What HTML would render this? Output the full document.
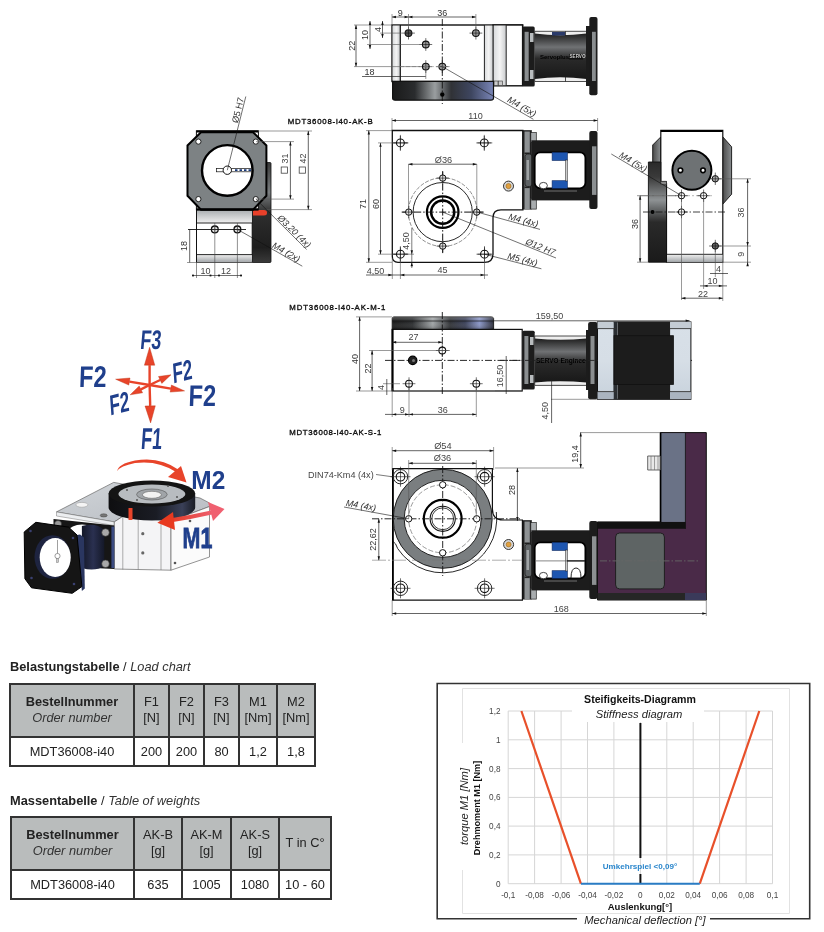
<!DOCTYPE html>
<html><head><meta charset="utf-8">
<style>
html,body{margin:0;padding:0;background:#fff;}
body{width:824px;height:932px;position:relative;overflow:hidden;font-family:"Liberation Sans",sans-serif;}
.ttl{position:absolute;font-size:12.8px;color:#222;white-space:nowrap;line-height:15px;}
.ttl i{color:#333;}
table.t{position:absolute;border-collapse:collapse;font-size:12.8px;color:#222;table-layout:fixed;}
table.t td{border:2px solid #333;text-align:center;padding:0;line-height:15.5px;}
table.t tr.h td{background:#b9bcbc;padding-bottom:2px;}
table.t i{color:#333;}
svg{position:absolute;left:0;top:0;will-change:transform;}
body>*{will-change:transform;}
</style></head>
<body>


<div class="ttl" style="left:10px;top:659px;"><b>Belastungstabelle</b> / <i>Load chart</i></div>
<table class="t" style="left:9px;top:683px;">
<tr class="h" style="height:53px"><td style="width:122px"><b>Bestellnummer</b><br><i>Order number</i></td><td style="width:33px">F1<br>[N]</td><td style="width:33px">F2<br>[N]</td><td style="width:33px">F3<br>[N]</td><td style="width:36px">M1<br>[Nm]</td><td style="width:36px">M2<br>[Nm]</td></tr>
<tr style="height:29px"><td>MDT36008-i40</td><td>200</td><td>200</td><td>80</td><td>1,2</td><td>1,8</td></tr>
</table>
<div class="ttl" style="left:10px;top:793px;"><b>Massentabelle</b> / <i>Table of weights</i></div>
<table class="t" style="left:10px;top:816px;">
<tr class="h" style="height:53px"><td style="width:121px"><b>Bestellnummer</b><br><i>Order number</i></td><td style="width:46px">AK-B<br>[g]</td><td style="width:47px">AK-M<br>[g]</td><td style="width:46px">AK-S<br>[g]</td><td style="width:50px">T in C°</td></tr>
<tr style="height:29px"><td>MDT36008-i40</td><td>635</td><td>1005</td><td>1080</td><td>10 - 60</td></tr>
</table>

<svg width="824" height="932" viewBox="0 0 824 932" font-family='"Liberation Sans", sans-serif'>
<path d="M462.5 743 V688.5 H789.5 V913.5 H462.5 V870" fill="none" stroke="#e2e2e2" stroke-width="1"/>
<line x1="508.2" y1="711" x2="508.2" y2="883.7" stroke="#d6d6d6" stroke-width="1"/>
<line x1="534.6" y1="711" x2="534.6" y2="883.7" stroke="#d6d6d6" stroke-width="1"/>
<line x1="561.1" y1="711" x2="561.1" y2="883.7" stroke="#d6d6d6" stroke-width="1"/>
<line x1="587.5" y1="711" x2="587.5" y2="883.7" stroke="#d6d6d6" stroke-width="1"/>
<line x1="613.9" y1="711" x2="613.9" y2="883.7" stroke="#d6d6d6" stroke-width="1"/>
<line x1="640.4" y1="711" x2="640.4" y2="883.7" stroke="#d6d6d6" stroke-width="1"/>
<line x1="666.8" y1="711" x2="666.8" y2="883.7" stroke="#d6d6d6" stroke-width="1"/>
<line x1="693.2" y1="711" x2="693.2" y2="883.7" stroke="#d6d6d6" stroke-width="1"/>
<line x1="719.6" y1="711" x2="719.6" y2="883.7" stroke="#d6d6d6" stroke-width="1"/>
<line x1="746.1" y1="711" x2="746.1" y2="883.7" stroke="#d6d6d6" stroke-width="1"/>
<line x1="772.5" y1="711" x2="772.5" y2="883.7" stroke="#d6d6d6" stroke-width="1"/>
<line x1="508.2" y1="883.7" x2="772.5" y2="883.7" stroke="#d6d6d6" stroke-width="1"/>
<line x1="508.2" y1="854.9" x2="772.5" y2="854.9" stroke="#d6d6d6" stroke-width="1"/>
<line x1="508.2" y1="826.1" x2="772.5" y2="826.1" stroke="#d6d6d6" stroke-width="1"/>
<line x1="508.2" y1="797.4" x2="772.5" y2="797.4" stroke="#d6d6d6" stroke-width="1"/>
<line x1="508.2" y1="768.6" x2="772.5" y2="768.6" stroke="#d6d6d6" stroke-width="1"/>
<line x1="508.2" y1="739.8" x2="772.5" y2="739.8" stroke="#d6d6d6" stroke-width="1"/>
<line x1="508.2" y1="711.0" x2="772.5" y2="711.0" stroke="#d6d6d6" stroke-width="1"/>
<rect x="572" y="695" width="132" height="27" fill="#fff"/>
<text x="640" y="703.3" font-size="10.6" text-anchor="middle" font-weight="bold" fill="#111">Steifigkeits-Diagramm</text>
<text x="639" y="717.5" font-size="11.2" text-anchor="middle" font-style="italic" fill="#222">Stiffness diagram</text>
<text x="500.5" y="886.7" font-size="8.2" text-anchor="end" fill="#444">0</text>
<text x="500.5" y="857.9166666666667" font-size="8.2" text-anchor="end" fill="#444">0,2</text>
<text x="500.5" y="829.1333333333333" font-size="8.2" text-anchor="end" fill="#444">0,4</text>
<text x="500.5" y="800.35" font-size="8.2" text-anchor="end" fill="#444">0,6</text>
<text x="500.5" y="771.5666666666667" font-size="8.2" text-anchor="end" fill="#444">0,8</text>
<text x="500.5" y="742.7833333333333" font-size="8.2" text-anchor="end" fill="#444">1</text>
<text x="500.5" y="714.0" font-size="8.2" text-anchor="end" fill="#444">1,2</text>
<text x="508.2" y="897.5" font-size="8.2" text-anchor="middle" fill="#444">-0,1</text>
<text x="534.6" y="897.5" font-size="8.2" text-anchor="middle" fill="#444">-0,08</text>
<text x="561.1" y="897.5" font-size="8.2" text-anchor="middle" fill="#444">-0,06</text>
<text x="587.5" y="897.5" font-size="8.2" text-anchor="middle" fill="#444">-0,04</text>
<text x="613.9" y="897.5" font-size="8.2" text-anchor="middle" fill="#444">-0,02</text>
<text x="640.4" y="897.5" font-size="8.2" text-anchor="middle" fill="#444">0</text>
<text x="666.8" y="897.5" font-size="8.2" text-anchor="middle" fill="#444">0,02</text>
<text x="693.2" y="897.5" font-size="8.2" text-anchor="middle" fill="#444">0,04</text>
<text x="719.6" y="897.5" font-size="8.2" text-anchor="middle" fill="#444">0,06</text>
<text x="746.1" y="897.5" font-size="8.2" text-anchor="middle" fill="#444">0,08</text>
<text x="772.5" y="897.5" font-size="8.2" text-anchor="middle" fill="#444">0,1</text>
<line x1="640.4" y1="723" x2="640.4" y2="858" stroke="#111" stroke-width="2"/>
<line x1="640.4" y1="874" x2="640.4" y2="883.7" stroke="#111" stroke-width="2"/>
<polyline points="521.4,711 580.9,883.7" fill="none" stroke="#e8502a" stroke-width="2.2"/>
<polyline points="759.3,711 699.8,883.7" fill="none" stroke="#e8502a" stroke-width="2.2"/>
<line x1="580.9" y1="883.7" x2="699.8" y2="883.7" stroke="#2a7cc4" stroke-width="2"/>
<text x="640" y="869" font-size="8.1" text-anchor="middle" font-weight="bold" fill="#2a86cc">Umkehrspiel &lt;0,09°</text>
<text x="640" y="910" font-size="9.5" text-anchor="middle" font-weight="bold" fill="#111">Auslenkung[°]</text>
<text x="645" y="924" font-size="11.2" text-anchor="middle" font-style="italic" fill="#222">Mechanical deflection [°]</text>
<text x="468" y="806.5" font-size="11.2" text-anchor="middle" font-style="italic" fill="#222" transform="rotate(-90 468 806.5)">torque M1 [Nm]</text>
<text x="479.5" y="808" font-size="9.1" text-anchor="middle" font-weight="bold" fill="#111" transform="rotate(-90 479.5 808)">Drehmoment M1 [Nm]</text>
<path d="M577 918.8 H437.2 V683.5 H809.7 V918.8 H710" fill="none" stroke="#333" stroke-width="1.6"/>
<defs>
<linearGradient id="gBase" x1="0" x2="1" y1="0" y2="0">
<stop offset="0" stop-color="#1a1a1a"/><stop offset="0.22" stop-color="#2a2c2e"/><stop offset="0.42" stop-color="#9a9ea0"/><stop offset="0.58" stop-color="#303236"/><stop offset="0.78" stop-color="#3e4660"/><stop offset="1" stop-color="#7a86b8"/></linearGradient>
<linearGradient id="gStrip" x1="0" x2="1" y1="0" y2="0"><stop offset="0" stop-color="#d8dadc"/><stop offset="0.5" stop-color="#f4f4f4"/><stop offset="1" stop-color="#c9cbcd"/></linearGradient>
<linearGradient id="gCoup" x1="0" x2="0" y1="0" y2="1"><stop offset="0" stop-color="#1e1e1e"/><stop offset="0.3" stop-color="#707274"/><stop offset="0.55" stop-color="#2a2a2a"/><stop offset="1" stop-color="#181818"/></linearGradient>
<linearGradient id="gBaseV" x1="0" x2="0" y1="0" y2="1"><stop offset="0" stop-color="#000" stop-opacity="0"/><stop offset="1" stop-color="#000" stop-opacity="0.35"/></linearGradient>
</defs>
<rect x="392" y="25" width="130.6" height="56.5" fill="#fff" stroke="#111" stroke-width="1.4"/>
<rect x="493" y="25" width="29.6" height="60.8" fill="#fff" stroke="#111" stroke-width="1.4"/>
<rect x="392.7" y="25.7" width="7.3" height="55" fill="url(#gStrip)"/>
<line x1="400.3" y1="25" x2="400.3" y2="81" stroke="#111" stroke-width="1.2"/>
<rect x="484.4" y="25.7" width="8.6" height="55.5" fill="url(#gStrip)"/>
<rect x="493.6" y="25.7" width="12.6" height="59.5" fill="url(#gStrip)"/>
<line x1="484.4" y1="25" x2="484.4" y2="85.8" stroke="#222" stroke-width="1"/>
<line x1="493" y1="25" x2="493" y2="85.8" stroke="#222" stroke-width="1"/>
<line x1="506.2" y1="25" x2="506.2" y2="85.8" stroke="#222" stroke-width="1"/>
<rect x="494" y="81" width="4" height="4.5" fill="#ccc" stroke="#333" stroke-width="0.6"/><rect x="498.5" y="81" width="4" height="4.5" fill="#ccc" stroke="#333" stroke-width="0.6"/>
<path d="M392.6 81.4 H493.5 V98 Q493.5 100.2 491 100.2 H395 Q392.6 100.2 392.6 98 Z" fill="url(#gBase)" stroke="#111" stroke-width="1.2"/>
<line x1="442.3" y1="19" x2="442.3" y2="104" stroke="#111" stroke-width="0.9" stroke-dasharray="7 2 1.5 2"/>
<circle cx="442.3" cy="94.5" r="2.2" fill="#000"/>
<circle cx="408.5" cy="33.1" r="3.4" fill="#555" stroke="#111" stroke-width="1.1"/><line x1="402.1" y1="33.1" x2="414.9" y2="33.1" stroke="#111" stroke-width="0.6"/><line x1="408.5" y1="26.700000000000003" x2="408.5" y2="39.5" stroke="#111" stroke-width="0.6"/>
<circle cx="475.9" cy="33.1" r="3.4" fill="#999" stroke="#111" stroke-width="1.1"/><line x1="469.5" y1="33.1" x2="482.29999999999995" y2="33.1" stroke="#111" stroke-width="0.6"/><line x1="475.9" y1="26.700000000000003" x2="475.9" y2="39.5" stroke="#111" stroke-width="0.6"/>
<circle cx="425.8" cy="44.5" r="3.4" fill="#999" stroke="#111" stroke-width="1.1"/><line x1="419.40000000000003" y1="44.5" x2="432.2" y2="44.5" stroke="#111" stroke-width="0.6"/><line x1="425.8" y1="38.1" x2="425.8" y2="50.9" stroke="#111" stroke-width="0.6"/>
<circle cx="425.8" cy="66.6" r="3.4" fill="#999" stroke="#111" stroke-width="1.1"/><line x1="419.40000000000003" y1="66.6" x2="432.2" y2="66.6" stroke="#111" stroke-width="0.6"/><line x1="425.8" y1="60.199999999999996" x2="425.8" y2="73.0" stroke="#111" stroke-width="0.6"/>
<circle cx="442.3" cy="66.6" r="3.4" fill="#999" stroke="#111" stroke-width="1.1"/><line x1="435.90000000000003" y1="66.6" x2="448.7" y2="66.6" stroke="#111" stroke-width="0.6"/><line x1="442.3" y1="60.199999999999996" x2="442.3" y2="73.0" stroke="#111" stroke-width="0.6"/>
<line x1="400" y1="66.6" x2="450" y2="66.6" stroke="#999" stroke-width="0.6" stroke-dasharray="4 2"/>
<line x1="392" y1="17" x2="408.5" y2="17" stroke="#222" stroke-width="0.7"/><path d="M392 17 l3.9600000000000004 -1.2100000000000002 v2.4200000000000004 z" fill="#111"/><path d="M408.5 17 l-3.9600000000000004 -1.2100000000000002 v2.4200000000000004 z" fill="#111"/><text x="400.25" y="15.5" font-size="9" text-anchor="middle" fill="#333">9</text>
<line x1="408.5" y1="17" x2="475.9" y2="17" stroke="#222" stroke-width="0.7"/><path d="M408.5 17 l3.9600000000000004 -1.2100000000000002 v2.4200000000000004 z" fill="#111"/><path d="M475.9 17 l-3.9600000000000004 -1.2100000000000002 v2.4200000000000004 z" fill="#111"/><text x="442.2" y="15.5" font-size="9" text-anchor="middle" fill="#333">36</text>
<line x1="392" y1="25" x2="392" y2="14" stroke="#555" stroke-width="0.6"/>
<line x1="408.5" y1="30" x2="408.5" y2="14" stroke="#555" stroke-width="0.6"/>
<line x1="475.9" y1="30" x2="475.9" y2="14" stroke="#555" stroke-width="0.6"/>
<line x1="356" y1="25" x2="356" y2="66.6" stroke="#222" stroke-width="0.7"/><path d="M356 25 l-1.2100000000000002 3.9600000000000004 h2.4200000000000004 z" fill="#111"/><path d="M356 66.6 l-1.2100000000000002 -3.9600000000000004 h2.4200000000000004 z" fill="#111"/><text x="355" y="45.8" font-size="9" text-anchor="middle" fill="#333" transform="rotate(-90 355 45.8)">22</text>
<line x1="354" y1="25" x2="392" y2="25" stroke="#555" stroke-width="0.6"/>
<line x1="354" y1="66.6" x2="420" y2="66.6" stroke="#555" stroke-width="0.6"/>
<line x1="370" y1="21" x2="370" y2="49" stroke="#222" stroke-width="0.7"/><path d="M370 21 l-1.2100000000000002 3.9600000000000004 h2.4200000000000004 z" fill="#111"/><path d="M370 49 l-1.2100000000000002 -3.9600000000000004 h2.4200000000000004 z" fill="#111"/><text x="367.8" y="35.0" font-size="9" text-anchor="middle" fill="#333" transform="rotate(-90 367.8 35.0)">10</text>
<line x1="367" y1="44.5" x2="420" y2="44.5" stroke="#555" stroke-width="0.6"/>
<line x1="382.5" y1="21" x2="382.5" y2="38" stroke="#222" stroke-width="0.7"/><path d="M382.5 21 l-1.2100000000000002 3.9600000000000004 h2.4200000000000004 z" fill="#111"/><path d="M382.5 38 l-1.2100000000000002 -3.9600000000000004 h2.4200000000000004 z" fill="#111"/><text x="381" y="29.5" font-size="9" text-anchor="middle" fill="#333" transform="rotate(-90 381 29.5)">4</text>
<line x1="380" y1="33.1" x2="402" y2="33.1" stroke="#555" stroke-width="0.6"/>
<line x1="362" y1="76.5" x2="425.8" y2="76.5" stroke="#222" stroke-width="0.7"/><text x="369.5" y="74.8" font-size="9" text-anchor="middle" fill="#333">18</text>
<line x1="425.8" y1="70" x2="425.8" y2="79" stroke="#555" stroke-width="0.6"/>
<line x1="442.3" y1="66.6" x2="533.4" y2="119.3" stroke="#111" stroke-width="0.6"/><text x="520.28" y="109.4" font-size="9.4" text-anchor="middle" font-style="italic" fill="#333" transform="rotate(30.05 520.28 109.4)">M4 (5x)</text>
<rect x="522.4" y="26.4" width="12.3" height="60.1" rx="1.5" fill="#1c1c1c"/>
<rect x="524.6" y="31.8" width="4.1" height="49.2" fill="#8a8e90"/>
<rect x="530" y="33" width="3.5" height="9" fill="#b8bcbe"/><rect x="530" y="70" width="3.5" height="9" fill="#b8bcbe"/>
<path d="M534.7 31.3 H587 V81.5 H534.7 Z" fill="#eee" stroke="#222" stroke-width="0.8"/>
<path d="M534.7 33.5 Q560 37 586.5 33.5 V79 Q560 75.5 534.7 79 Z" fill="url(#gCoup)"/>
<rect x="552" y="32" width="13" height="3.5" fill="#2a3a6a"/><line x1="565.5" y1="31.3" x2="565.5" y2="36" stroke="#222" stroke-width="0.8"/><line x1="565.5" y1="77" x2="565.5" y2="81.5" stroke="#222" stroke-width="0.8"/>
<rect x="586" y="26" width="4" height="60" fill="#1c1c1c"/>
<rect x="589.3" y="17.1" width="8.2" height="78.1" rx="2" fill="#1c1c1c"/>
<rect x="592" y="31.8" width="3.8" height="49.2" fill="#8a8e90"/>
<text x="540" y="58.5" font-size="6" font-weight="bold" fill="#000">Servoplus</text>
<rect x="569" y="54" width="14" height="5.5" fill="#111"/><text x="569.5" y="58.3" font-size="4.6" font-weight="bold" fill="#ccc">SERVO</text>
<defs>
<linearGradient id="gBandH" x1="0" x2="0" y1="0" y2="1"><stop offset="0" stop-color="#a9adb0"/><stop offset="1" stop-color="#f0f0f0"/></linearGradient>
<linearGradient id="gBandH2" x1="0" x2="0" y1="0" y2="1"><stop offset="0" stop-color="#f0f0f0"/><stop offset="1" stop-color="#a5a9ac"/></linearGradient>
<linearGradient id="gSide" x1="0" x2="0" y1="0" y2="1"><stop offset="0" stop-color="#3a3a3a"/><stop offset="0.3" stop-color="#7a7e80"/><stop offset="0.5" stop-color="#2e2e2e"/><stop offset="0.85" stop-color="#1e1e1e"/><stop offset="1" stop-color="#3a3a3a"/></linearGradient>
</defs>
<rect x="252" y="162.5" width="19" height="100" rx="1" fill="url(#gSide)" stroke="#111" stroke-width="0.8"/>
<path d="M253 210 H264 Q267 210 267 212.5 V213 Q267 215.5 264 215.5 H253 Z" fill="#e8402a"/>
<rect x="196.5" y="209" width="55.7" height="53.2" fill="#fff" stroke="#111" stroke-width="1"/>
<rect x="197" y="210" width="54.8" height="13" fill="url(#gBandH)"/>
<rect x="197" y="254.6" width="54.8" height="7.2" fill="url(#gBandH2)"/>
<line x1="196.5" y1="223" x2="252.2" y2="223" stroke="#111" stroke-width="0.9"/>
<line x1="196.5" y1="254.6" x2="252.2" y2="254.6" stroke="#111" stroke-width="0.9"/>
<rect x="196.4" y="130.8" width="62" height="79" fill="#fff" stroke="#111" stroke-width="1"/>
<path d="M201 132.2 H253 L266.4 145.5 V195.8 L253 209.8 H201 L187.5 195.8 V145.5 Z" fill="#7d8284" stroke="#000" stroke-width="2"/>
<line x1="196.4" y1="131.5" x2="258.3" y2="131.5" stroke="#000" stroke-width="2.2"/>
<line x1="196.4" y1="209.3" x2="258.3" y2="209.3" stroke="#000" stroke-width="2.2"/>
<circle cx="198.4" cy="141.6" r="2.6" fill="#fff" stroke="#111" stroke-width="0.9"/>
<circle cx="255.8" cy="141.6" r="2.6" fill="#fff" stroke="#111" stroke-width="0.9"/>
<circle cx="198.4" cy="199.1" r="2.6" fill="#fff" stroke="#111" stroke-width="0.9"/>
<circle cx="255.8" cy="199.1" r="2.6" fill="#fff" stroke="#111" stroke-width="0.9"/>
<circle cx="227.3" cy="170.4" r="25.3" fill="#fff" stroke="#000" stroke-width="2.4"/>
<rect x="216.4" y="168.4" width="35" height="3.4" fill="#fff" stroke="#111" stroke-width="0.7"/>
<path d="M235 170.1 H251" stroke="#1a3a7a" stroke-width="1.6" stroke-dasharray="2.5 2"/>
<circle cx="227.3" cy="170.2" r="4.2" fill="#fff" stroke="#111" stroke-width="1"/>
<circle cx="214.8" cy="229.4" r="3.4" fill="#e8e8e8" stroke="#111" stroke-width="1.3"/>
<line x1="214.8" y1="226" x2="214.8" y2="233" stroke="#333" stroke-width="0.6"/>
<circle cx="237.4" cy="229.4" r="3.4" fill="#e8e8e8" stroke="#111" stroke-width="1.3"/>
<line x1="237.4" y1="226" x2="237.4" y2="233" stroke="#333" stroke-width="0.6"/>
<line x1="188" y1="229.5" x2="246" y2="229.5" stroke="#111" stroke-width="0.9"/>
<line x1="258" y1="131" x2="312" y2="131" stroke="#555" stroke-width="0.6"/>
<line x1="256" y1="141.6" x2="294" y2="141.6" stroke="#555" stroke-width="0.6"/>
<line x1="256" y1="199.1" x2="294" y2="199.1" stroke="#555" stroke-width="0.6"/>
<line x1="266" y1="209.6" x2="312" y2="209.6" stroke="#555" stroke-width="0.6"/>
<line x1="290.4" y1="141.6" x2="290.4" y2="199.1" stroke="#222" stroke-width="0.7"/><path d="M290.4 141.6 l-1.2100000000000002 3.9600000000000004 h2.4200000000000004 z" fill="#111"/><path d="M290.4 199.1 l-1.2100000000000002 -3.9600000000000004 h2.4200000000000004 z" fill="#111"/><text x="287.5" y="170.35" font-size="9" text-anchor="middle" fill="#333" transform="rotate(-90 287.5 170.35)"></text>
<line x1="308.3" y1="131" x2="308.3" y2="209.6" stroke="#222" stroke-width="0.7"/><path d="M308.3 131 l-1.2100000000000002 3.9600000000000004 h2.4200000000000004 z" fill="#111"/><path d="M308.3 209.6 l-1.2100000000000002 -3.9600000000000004 h2.4200000000000004 z" fill="#111"/><text x="305.5" y="170.3" font-size="9" text-anchor="middle" fill="#333" transform="rotate(-90 305.5 170.3)"></text>
<text x="287.6" y="158.5" font-size="9" text-anchor="middle" fill="#444" transform="rotate(-90 287.6 158.5)">31</text>
<text x="305.6" y="158.5" font-size="9" text-anchor="middle" fill="#444" transform="rotate(-90 305.6 158.5)">42</text>
<rect x="281.2" y="167" width="6.2" height="6.2" fill="none" stroke="#444" stroke-width="0.8"/>
<rect x="299.2" y="167" width="6.2" height="6.2" fill="none" stroke="#444" stroke-width="0.8"/>
<line x1="227.3" y1="170.2" x2="245.8" y2="96.5" stroke="#111" stroke-width="0.6"/><text x="240.94" y="110.95" font-size="9" text-anchor="middle" fill="#333" transform="rotate(-75.91 240.94 110.95)">Ø5 H7</text>
<line x1="255.8" y1="199.1" x2="306.6" y2="249.5" stroke="#111" stroke-width="0.6"/><text x="292.21" y="233.53" font-size="9" text-anchor="middle" font-style="italic" fill="#333" transform="rotate(44.77 292.21 233.53)">Ø3,20 (4x)</text>
<line x1="237.4" y1="229.4" x2="302.3" y2="266.2" stroke="#111" stroke-width="0.6"/><text x="284.72" y="254.85" font-size="9" text-anchor="middle" font-style="italic" fill="#333" transform="rotate(29.55 284.72 254.85)">M4 (2x)</text>
<line x1="187" y1="262.5" x2="197" y2="262.5" stroke="#555" stroke-width="0.6"/>
<line x1="189.7" y1="229.4" x2="189.7" y2="262.4" stroke="#222" stroke-width="0.7"/><text x="187.3" y="245.89999999999998" font-size="9" text-anchor="middle" fill="#333" transform="rotate(-90 187.3 245.89999999999998)">18</text>
<line x1="196.5" y1="262" x2="196.5" y2="278" stroke="#444" stroke-width="0.6"/>
<line x1="214.8" y1="223" x2="214.8" y2="278" stroke="#444" stroke-width="0.6"/>
<line x1="237.4" y1="223" x2="237.4" y2="278" stroke="#444" stroke-width="0.6"/>
<line x1="192" y1="275.5" x2="242" y2="275.5" stroke="#333" stroke-width="0.7"/>
<rect x="192.1" y="274.6" width="1.8" height="1.8" fill="#111"/>
<rect x="209.6" y="274.6" width="1.8" height="1.8" fill="#111"/>
<rect x="218.1" y="274.6" width="1.8" height="1.8" fill="#111"/>
<rect x="240.1" y="274.6" width="1.8" height="1.8" fill="#111"/>
<text x="205.6" y="273.5" font-size="9" text-anchor="middle" fill="#444">10</text>
<text x="226.1" y="273.5" font-size="9" text-anchor="middle" fill="#444">12</text>
<defs>
<linearGradient id="gFl" x1="0" x2="1" y1="0" y2="0"><stop offset="0" stop-color="#222"/><stop offset="0.5" stop-color="#3a3a3a"/><stop offset="1" stop-color="#1a1a1a"/></linearGradient>
</defs>
<text x="287.7" y="123.5" font-size="7.8" fill="#111" stroke="#111" stroke-width="0.35" textLength="85" lengthAdjust="spacing">MDT36008-i40-AK-B</text>
<line x1="392" y1="120.5" x2="597.6" y2="120.5" stroke="#222" stroke-width="0.7"/>
<path d="M392 120.5 l3.9600000000000004 -1.2100000000000002 v2.4200000000000004 z" fill="#111"/><path d="M597.6 120.5 l-3.9600000000000004 -1.2100000000000002 v2.4200000000000004 z" fill="#111"/>
<text x="475.5" y="119" font-size="9" text-anchor="middle" fill="#444">110</text>
<line x1="392" y1="118" x2="392" y2="131" stroke="#555" stroke-width="0.6"/>
<line x1="597.6" y1="118" x2="597.6" y2="131" stroke="#555" stroke-width="0.6"/>
<path d="M392.3 130.5 H522.9 V209.8 H501 Q493 209.8 493 217.5 V254 Q493 262.3 484.5 262.3 H398 Q392.3 262.3 392.3 256.5 Z" fill="#fff" stroke="#111" stroke-width="1.3"/>
<line x1="366" y1="130.6" x2="392" y2="130.6" stroke="#555" stroke-width="0.6"/>
<line x1="366" y1="262.3" x2="392" y2="262.3" stroke="#555" stroke-width="0.6"/>
<line x1="378" y1="142.9" x2="408" y2="142.9" stroke="#555" stroke-width="0.6"/>
<line x1="378" y1="254.2" x2="408" y2="254.2" stroke="#555" stroke-width="0.6"/>
<line x1="368.8" y1="130.6" x2="368.8" y2="262.3" stroke="#222" stroke-width="0.7"/><path d="M368.8 130.6 l-1.2100000000000002 3.9600000000000004 h2.4200000000000004 z" fill="#111"/><path d="M368.8 262.3 l-1.2100000000000002 -3.9600000000000004 h2.4200000000000004 z" fill="#111"/><text x="365.5" y="204" font-size="9" text-anchor="middle" fill="#333" transform="rotate(-90 365.5 204)">71</text>
<line x1="380.5" y1="142.9" x2="380.5" y2="254.2" stroke="#222" stroke-width="0.7"/><path d="M380.5 142.9 l-1.2100000000000002 3.9600000000000004 h2.4200000000000004 z" fill="#111"/><path d="M380.5 254.2 l-1.2100000000000002 -3.9600000000000004 h2.4200000000000004 z" fill="#111"/><text x="378.5" y="204" font-size="9" text-anchor="middle" fill="#333" transform="rotate(-90 378.5 204)">60</text>
<circle cx="400.4" cy="142.9" r="3.9" fill="#fff" stroke="#111" stroke-width="1.1"/><line x1="393.5" y1="142.9" x2="407.29999999999995" y2="142.9" stroke="#111" stroke-width="0.6"/><line x1="400.4" y1="136.0" x2="400.4" y2="149.8" stroke="#111" stroke-width="0.6"/>
<line x1="392.4" y1="142.9" x2="408.4" y2="142.9" stroke="#111" stroke-width="0.6"/><line x1="400.4" y1="134.9" x2="400.4" y2="150.9" stroke="#111" stroke-width="0.6"/>
<circle cx="484.3" cy="142.9" r="3.9" fill="#fff" stroke="#111" stroke-width="1.1"/><line x1="477.40000000000003" y1="142.9" x2="491.2" y2="142.9" stroke="#111" stroke-width="0.6"/><line x1="484.3" y1="136.0" x2="484.3" y2="149.8" stroke="#111" stroke-width="0.6"/>
<line x1="476.3" y1="142.9" x2="492.3" y2="142.9" stroke="#111" stroke-width="0.6"/><line x1="484.3" y1="134.9" x2="484.3" y2="150.9" stroke="#111" stroke-width="0.6"/>
<circle cx="400.4" cy="254.2" r="3.9" fill="#fff" stroke="#111" stroke-width="1.1"/><line x1="393.5" y1="254.2" x2="407.29999999999995" y2="254.2" stroke="#111" stroke-width="0.6"/><line x1="400.4" y1="247.29999999999998" x2="400.4" y2="261.09999999999997" stroke="#111" stroke-width="0.6"/>
<line x1="392.4" y1="254.2" x2="408.4" y2="254.2" stroke="#111" stroke-width="0.6"/><line x1="400.4" y1="246.2" x2="400.4" y2="262.2" stroke="#111" stroke-width="0.6"/>
<circle cx="484.5" cy="254.2" r="3.9" fill="#fff" stroke="#111" stroke-width="1.1"/><line x1="477.6" y1="254.2" x2="491.4" y2="254.2" stroke="#111" stroke-width="0.6"/><line x1="484.5" y1="247.29999999999998" x2="484.5" y2="261.09999999999997" stroke="#111" stroke-width="0.6"/>
<line x1="476.5" y1="254.2" x2="492.5" y2="254.2" stroke="#111" stroke-width="0.6"/><line x1="484.5" y1="246.2" x2="484.5" y2="262.2" stroke="#111" stroke-width="0.6"/>
<circle cx="442.7" cy="212.1" r="34.3" fill="none" stroke="#444" stroke-width="0.6" stroke-dasharray="4 1.5"/>
<circle cx="442.7" cy="212.1" r="29.6" fill="none" stroke="#111" stroke-width="0.9"/>
<circle cx="442.7" cy="212.1" r="15.8" fill="none" stroke="#000" stroke-width="2.2"/>
<circle cx="442.7" cy="212.1" r="11.6" fill="none" stroke="#000" stroke-width="2.4"/>
<line x1="401.7" y1="212.1" x2="483.7" y2="212.1" stroke="#111" stroke-width="1" stroke-dasharray="7 2 1.5 2"/>
<line x1="442.7" y1="171.1" x2="442.7" y2="253.1" stroke="#111" stroke-width="1" stroke-dasharray="7 2 1.5 2"/>
<circle cx="442.7" cy="178.1" r="3.2" fill="#e4e4e4" stroke="#111" stroke-width="1"/><line x1="436.5" y1="178.1" x2="448.9" y2="178.1" stroke="#111" stroke-width="0.6"/><line x1="442.7" y1="171.9" x2="442.7" y2="184.29999999999998" stroke="#111" stroke-width="0.6"/>
<circle cx="408.7" cy="212.1" r="3.2" fill="#e4e4e4" stroke="#111" stroke-width="1"/><line x1="402.5" y1="212.1" x2="414.9" y2="212.1" stroke="#111" stroke-width="0.6"/><line x1="408.7" y1="205.9" x2="408.7" y2="218.29999999999998" stroke="#111" stroke-width="0.6"/>
<circle cx="476.7" cy="212.1" r="3.2" fill="#e4e4e4" stroke="#111" stroke-width="1"/><line x1="470.5" y1="212.1" x2="482.9" y2="212.1" stroke="#111" stroke-width="0.6"/><line x1="476.7" y1="205.9" x2="476.7" y2="218.29999999999998" stroke="#111" stroke-width="0.6"/>
<circle cx="442.7" cy="246.1" r="3.2" fill="#e4e4e4" stroke="#111" stroke-width="1"/><line x1="436.5" y1="246.1" x2="448.9" y2="246.1" stroke="#111" stroke-width="0.6"/><line x1="442.7" y1="239.9" x2="442.7" y2="252.29999999999998" stroke="#111" stroke-width="0.6"/>
<line x1="408.5" y1="164.2" x2="408.5" y2="212" stroke="#555" stroke-width="0.6"/>
<line x1="476.8" y1="164.2" x2="476.8" y2="212" stroke="#555" stroke-width="0.6"/>
<line x1="408.5" y1="164.2" x2="476.8" y2="164.2" stroke="#222" stroke-width="0.7"/>
<path d="M408.5 164.2 l3.9600000000000004 -1.2100000000000002 v2.4200000000000004 z" fill="#111"/><path d="M476.8 164.2 l-3.9600000000000004 -1.2100000000000002 v2.4200000000000004 z" fill="#111"/>
<text x="443.5" y="162.5" font-size="9.2" text-anchor="middle" fill="#444">Ø36</text>
<line x1="404" y1="254.2" x2="414" y2="254.2" stroke="#555" stroke-width="0.6"/>
<line x1="411.8" y1="228" x2="411.8" y2="268" stroke="#222" stroke-width="0.6"/>
<path d="M411.8 254.2 l-1.2100000000000002 -3.9600000000000004 h2.4200000000000004 z" fill="#111"/><path d="M411.8 262.3 l-1.2100000000000002 3.9600000000000004 h2.4200000000000004 z" fill="#111"/>
<text x="409.3" y="241" font-size="9" text-anchor="middle" fill="#444" transform="rotate(-90 409.3 241)">4,50</text>
<line x1="392.3" y1="258" x2="392.3" y2="279" stroke="#555" stroke-width="0.6"/>
<line x1="400.4" y1="258" x2="400.4" y2="279" stroke="#555" stroke-width="0.6"/>
<line x1="484.5" y1="258" x2="484.5" y2="279" stroke="#555" stroke-width="0.6"/>
<line x1="366" y1="275" x2="488" y2="275" stroke="#222" stroke-width="0.7"/>
<path d="M392.3 275 l-3.9600000000000004 -1.2100000000000002 v2.4200000000000004 z" fill="#111"/><path d="M400.4 275 l3.9600000000000004 -1.2100000000000002 v2.4200000000000004 z" fill="#111"/><path d="M484.5 275 l-3.9600000000000004 -1.2100000000000002 v2.4200000000000004 z" fill="#111"/>
<text x="375.6" y="273.5" font-size="9" text-anchor="middle" fill="#444">4,50</text>
<text x="442.6" y="273" font-size="9" text-anchor="middle" fill="#444">45</text>
<circle cx="508.5" cy="186.1" r="5" fill="#d8d8d8" stroke="#333" stroke-width="1"/><circle cx="508.5" cy="186.1" r="2.6" fill="#e0a040" stroke="#8a5a10" stroke-width="0.5"/>
<line x1="476.8" y1="212" x2="540" y2="229.4" stroke="#111" stroke-width="0.6"/><text x="522.65" y="223.27" font-size="9" text-anchor="middle" font-style="italic" fill="#333" transform="rotate(15.39 522.65 223.27)">M4 (4x)</text>
<line x1="442.7" y1="212.1" x2="556" y2="258" stroke="#111" stroke-width="0.6"/><text x="539.49" y="249.91" font-size="9" text-anchor="middle" font-style="italic" fill="#333" transform="rotate(22.05 539.49 249.91)">Ø12 H7</text>
<line x1="484.5" y1="254.2" x2="541.4" y2="268.8" stroke="#111" stroke-width="0.6"/><text x="521.81" y="262.43" font-size="9" text-anchor="middle" font-style="italic" fill="#333" transform="rotate(14.39 521.81 262.43)">M5 (4x)</text>
<rect x="522.6" y="130.5" width="8.8" height="78.6" fill="#1e1e1e" stroke="#111" stroke-width="0.6"/>
<rect x="524.5" y="131.5" width="5.3" height="77.6" fill="#8e9294"/>
<rect x="524.5" y="152.5" width="5.3" height="1.6" fill="#222"/><rect x="524.5" y="186.5" width="5.3" height="1.6" fill="#222"/>
<rect x="525" y="154.0" width="7" height="32.5" rx="2.5" fill="#5e6264" stroke="#1a1a1a" stroke-width="0.8"/>
<rect x="526.5" y="160.0" width="2.5" height="20" fill="#a0a4a6"/>
<rect x="530.8" y="132.6" width="5.5" height="9.9" fill="#a8acae" stroke="#222" stroke-width="0.7"/><rect x="530.8" y="198.2" width="5.5" height="10.9" fill="#a8acae" stroke="#222" stroke-width="0.7"/>
<rect x="531.4" y="140.3" width="59" height="60.1" fill="#1c1c1c"/>
<rect x="534.7" y="152.3" width="50.7" height="36" rx="5.5" fill="#fff" stroke="#000" stroke-width="1.8"/>
<rect x="552.1" y="152.3" width="15.3" height="8.2" fill="#1e56b0" stroke="#102a60" stroke-width="0.6"/><rect x="552.1" y="180.7" width="15.3" height="7.6" fill="#1e56b0" stroke="#102a60" stroke-width="0.6"/>
<rect x="565.5" y="160.0" width="1.9" height="21" fill="#ccc" stroke="#222" stroke-width="0.5"/>
<line x1="544" y1="191.0" x2="577" y2="191.0" stroke="#888" stroke-width="0.8"/>
<ellipse cx="543.4" cy="185.6" rx="4" ry="3.2" fill="#fff" stroke="#333" stroke-width="0.9"/>
<rect x="589.3" y="131.0" width="8.2" height="78.1" rx="2" fill="#1c1c1c"/>
<rect x="592" y="146.3" width="4.4" height="48.6" fill="#8c9092"/>
<defs>
<linearGradient id="gDisk" x1="0" x2="0" y1="0" y2="1"><stop offset="0" stop-color="#2a2a2a"/><stop offset="0.15" stop-color="#3a3a3a"/><stop offset="0.38" stop-color="#8e9294"/><stop offset="0.6" stop-color="#2a2a2a"/><stop offset="1" stop-color="#1a1a1a"/></linearGradient>
<linearGradient id="gFlS2" x1="0" x2="1" y1="0" y2="0"><stop offset="0" stop-color="#4a4a4a"/><stop offset="1" stop-color="#8a8e90"/></linearGradient>
<linearGradient id="gFlS" x1="0" x2="0" y1="0" y2="1"><stop offset="0" stop-color="#3a3a3a"/><stop offset="0.5" stop-color="#8a8e90"/><stop offset="1" stop-color="#4a4a4a"/></linearGradient>
</defs>
<path d="M652.7 145 L660.6 137.1 V164 H652.7 Z" fill="url(#gFlS2)" stroke="#111" stroke-width="0.9"/>
<path d="M722.5 136.5 L731.6 146.8 V194.2 L722.5 204.5 Z" fill="url(#gFlS2)" stroke="#111" stroke-width="0.9"/>
<path d="M660.8 130.4 H722.8 V262.2 H666.5 V183.4 H660.8 Z" fill="#fff" stroke="#111" stroke-width="1.2"/>
<line x1="660.8" y1="131" x2="722.8" y2="131" stroke="#000" stroke-width="2"/>
<rect x="667" y="254.3" width="55.5" height="7.6" fill="url(#gBandH2)"/>
<line x1="666.5" y1="254.3" x2="722.8" y2="254.3" stroke="#111" stroke-width="0.9"/>
<path d="M648.4 162 H660.8 V181.4 H666.5 V262.2 H648.4 Z" fill="url(#gDisk)" stroke="#111" stroke-width="0.9"/>
<circle cx="652.5" cy="212" r="2" fill="#000"/>
<circle cx="691.9" cy="170.3" r="19.5" fill="#6e7274" stroke="#000" stroke-width="2"/>
<circle cx="680.4" cy="170.3" r="2.3" fill="#fff" stroke="#000" stroke-width="1.6"/><circle cx="703" cy="170.3" r="2.3" fill="#fff" stroke="#000" stroke-width="1.6"/>
<line x1="643" y1="212" x2="726" y2="212" stroke="#111" stroke-width="0.8" stroke-dasharray="7 2 1.5 2"/>
<line x1="640" y1="195.7" x2="712" y2="195.7" stroke="#999" stroke-width="0.7" stroke-dasharray="8 2 2 2"/>
<rect x="660.8" y="181.4" width="5.7" height="3.2" fill="#888" stroke="#222" stroke-width="0.5"/>
<circle cx="715.3" cy="178.8" r="3.2" fill="#aaa" stroke="#111" stroke-width="1"/><line x1="709.0999999999999" y1="178.8" x2="721.5" y2="178.8" stroke="#111" stroke-width="0.6"/><line x1="715.3" y1="172.60000000000002" x2="715.3" y2="185.0" stroke="#111" stroke-width="0.6"/>
<circle cx="681.5" cy="195.7" r="3.2" fill="#fff" stroke="#111" stroke-width="1"/><line x1="675.3" y1="195.7" x2="687.7" y2="195.7" stroke="#111" stroke-width="0.6"/><line x1="681.5" y1="189.5" x2="681.5" y2="201.89999999999998" stroke="#111" stroke-width="0.6"/>
<circle cx="703.6" cy="195.7" r="3.2" fill="#fff" stroke="#111" stroke-width="1"/><line x1="697.4" y1="195.7" x2="709.8000000000001" y2="195.7" stroke="#111" stroke-width="0.6"/><line x1="703.6" y1="189.5" x2="703.6" y2="201.89999999999998" stroke="#111" stroke-width="0.6"/>
<circle cx="681.5" cy="212" r="3.2" fill="#fff" stroke="#111" stroke-width="1"/><line x1="675.3" y1="212" x2="687.7" y2="212" stroke="#111" stroke-width="0.6"/><line x1="681.5" y1="205.8" x2="681.5" y2="218.2" stroke="#111" stroke-width="0.6"/>
<circle cx="715.3" cy="246" r="3.2" fill="#666" stroke="#111" stroke-width="1"/><line x1="709.0999999999999" y1="246" x2="721.5" y2="246" stroke="#111" stroke-width="0.6"/><line x1="715.3" y1="239.8" x2="715.3" y2="252.2" stroke="#111" stroke-width="0.6"/>
<line x1="681.5" y1="200" x2="681.5" y2="300" stroke="#555" stroke-width="0.6"/>
<line x1="703.6" y1="200" x2="703.6" y2="289" stroke="#555" stroke-width="0.6"/>
<line x1="715.3" y1="250" x2="715.3" y2="277" stroke="#555" stroke-width="0.6"/>
<line x1="722.8" y1="262" x2="722.8" y2="301" stroke="#555" stroke-width="0.6"/>
<line x1="637" y1="195.7" x2="676" y2="195.7" stroke="#555" stroke-width="0.6"/>
<line x1="637" y1="262.2" x2="648" y2="262.2" stroke="#555" stroke-width="0.6"/>
<line x1="719" y1="178.8" x2="751" y2="178.8" stroke="#555" stroke-width="0.6"/>
<line x1="719" y1="246" x2="751" y2="246" stroke="#555" stroke-width="0.6"/>
<line x1="722.8" y1="262.2" x2="751" y2="262.2" stroke="#555" stroke-width="0.6"/>
<line x1="640.1" y1="195.7" x2="640.1" y2="262.2" stroke="#222" stroke-width="0.7"/><path d="M640.1 195.7 l-1.2100000000000002 3.9600000000000004 h2.4200000000000004 z" fill="#111"/><path d="M640.1 262.2 l-1.2100000000000002 -3.9600000000000004 h2.4200000000000004 z" fill="#111"/><text x="638" y="224" font-size="9" text-anchor="middle" fill="#333" transform="rotate(-90 638 224)">36</text>
<line x1="747.6" y1="178.8" x2="747.6" y2="266" stroke="#222" stroke-width="0.7"/>
<path d="M747.6 178.8 l-1.2100000000000002 3.9600000000000004 h2.4200000000000004 z" fill="#111"/><path d="M747.6 246 l-1.2100000000000002 -3.9600000000000004 h2.4200000000000004 z" fill="#111"/><path d="M747.6 262.2 l-1.2100000000000002 3.9600000000000004 h2.4200000000000004 z" fill="#111"/>
<text x="744" y="212.4" font-size="9" text-anchor="middle" fill="#444" transform="rotate(-90 744 212.4)">36</text>
<text x="744" y="254.2" font-size="9" text-anchor="middle" fill="#444" transform="rotate(-90 744 254.2)">9</text>
<line x1="710" y1="273.5" x2="728" y2="273.5" stroke="#222" stroke-width="0.7"/>
<text x="718.5" y="271.5" font-size="9" text-anchor="middle" fill="#444">4</text>
<line x1="700" y1="285.9" x2="727" y2="285.9" stroke="#222" stroke-width="0.7"/>
<path d="M703.6 285.9 l3.9600000000000004 -1.2100000000000002 v2.4200000000000004 z" fill="#111"/><path d="M722.8 285.9 l-3.9600000000000004 -1.2100000000000002 v2.4200000000000004 z" fill="#111"/>
<text x="712.5" y="284" font-size="9" text-anchor="middle" fill="#444">10</text>
<line x1="681.5" y1="298.2" x2="722.8" y2="298.2" stroke="#222" stroke-width="0.7"/>
<path d="M681.5 298.2 l3.9600000000000004 -1.2100000000000002 v2.4200000000000004 z" fill="#111"/><path d="M722.8 298.2 l-3.9600000000000004 -1.2100000000000002 v2.4200000000000004 z" fill="#111"/>
<text x="703" y="296.5" font-size="9" text-anchor="middle" fill="#444">22</text>
<line x1="681.5" y1="195.7" x2="611.3" y2="154" stroke="#111" stroke-width="0.6"/><text x="631.62" y="164.56" font-size="9" text-anchor="middle" font-style="italic" fill="#333" transform="rotate(30.71 631.62 164.56)">M4 (5x)</text>
<defs>
<linearGradient id="gTT" x1="0" x2="1" y1="0" y2="0"><stop offset="0" stop-color="#1a1a1a"/><stop offset="0.2" stop-color="#2a2c2e"/><stop offset="0.4" stop-color="#a0a4a6"/><stop offset="0.57" stop-color="#303236"/><stop offset="0.72" stop-color="#3a4058"/><stop offset="0.86" stop-color="#8a96c8"/><stop offset="1" stop-color="#2a2c38"/></linearGradient>
<linearGradient id="gTTv" x1="0" x2="0" y1="0" y2="1"><stop offset="0" stop-color="#fff" stop-opacity="0.25"/><stop offset="0.4" stop-color="#fff" stop-opacity="0"/><stop offset="1" stop-color="#000" stop-opacity="0.3"/></linearGradient>
<linearGradient id="gMotL" x1="0" x2="0" y1="0" y2="1"><stop offset="0" stop-color="#d8e0e8"/><stop offset="0.5" stop-color="#d6dee6"/><stop offset="1" stop-color="#c8d2dc"/></linearGradient>
</defs>
<text x="289.3" y="309.6" font-size="7.8" fill="#111" stroke="#111" stroke-width="0.35" textLength="96" lengthAdjust="spacing">MDT36008-i40-AK-M-1</text>
<line x1="392.2" y1="320.8" x2="689.6" y2="320.8" stroke="#222" stroke-width="0.7"/>
<path d="M689.6 320.8 l-3.9600000000000004 -1.2100000000000002 v2.4200000000000004 z" fill="#111"/>
<text x="549.4" y="318.5" font-size="9" text-anchor="middle" fill="#444">159,50</text>
<path d="M392.2 329.7 V318.5 Q392.2 316.9 394 316.9 H491 Q493.6 316.9 493.6 318.5 V329.7 Z" fill="url(#gTT)" stroke="#111" stroke-width="0.9"/>
<rect x="392.2" y="316.9" width="101.4" height="12.8" fill="url(#gTTv)"/><line x1="392.5" y1="321" x2="493.3" y2="321" stroke="#111" stroke-width="0.7"/>
<rect x="392.2" y="329.4" width="130" height="61.6" fill="#fff" stroke="#111" stroke-width="1.2"/>
<line x1="392.6" y1="329.4" x2="392.6" y2="391" stroke="#000" stroke-width="2"/>
<line x1="442.3" y1="312" x2="442.3" y2="394" stroke="#111" stroke-width="0.9" stroke-dasharray="7 2 1.5 2"/>
<line x1="385" y1="360.4" x2="692" y2="360.4" stroke="#111" stroke-width="0.9" stroke-dasharray="7 2 1.5 2"/>
<circle cx="442.3" cy="350.5" r="3.4" fill="#fff" stroke="#111" stroke-width="1.1"/><line x1="435.90000000000003" y1="350.5" x2="448.7" y2="350.5" stroke="#111" stroke-width="0.6"/><line x1="442.3" y1="344.1" x2="442.3" y2="356.9" stroke="#111" stroke-width="0.6"/>
<circle cx="412.7" cy="360.4" r="4.2" fill="#222" stroke="#000" stroke-width="1.2"/><circle cx="413.5" cy="360.4" r="1.5" fill="#777"/>
<circle cx="409" cy="383.7" r="3.4" fill="#fff" stroke="#111" stroke-width="1.1"/><line x1="402.6" y1="383.7" x2="415.4" y2="383.7" stroke="#111" stroke-width="0.6"/><line x1="409" y1="377.3" x2="409" y2="390.09999999999997" stroke="#111" stroke-width="0.6"/>
<circle cx="476.3" cy="383.7" r="3.4" fill="#fff" stroke="#111" stroke-width="1.1"/><line x1="469.90000000000003" y1="383.7" x2="482.7" y2="383.7" stroke="#111" stroke-width="0.6"/><line x1="476.3" y1="377.3" x2="476.3" y2="390.09999999999997" stroke="#111" stroke-width="0.6"/>
<line x1="356" y1="316.9" x2="392" y2="316.9" stroke="#555" stroke-width="0.6"/>
<line x1="356" y1="391" x2="392" y2="391" stroke="#555" stroke-width="0.6"/>
<line x1="359.6" y1="316.9" x2="359.6" y2="391" stroke="#222" stroke-width="0.7"/><path d="M359.6 316.9 l-1.2100000000000002 3.9600000000000004 h2.4200000000000004 z" fill="#111"/><path d="M359.6 391 l-1.2100000000000002 -3.9600000000000004 h2.4200000000000004 z" fill="#111"/><text x="358.3" y="359" font-size="9" text-anchor="middle" fill="#333" transform="rotate(-90 358.3 359)">40</text>
<line x1="369" y1="350.5" x2="450" y2="350.5" stroke="#555" stroke-width="0.6"/>
<line x1="372.1" y1="350.5" x2="372.1" y2="391" stroke="#222" stroke-width="0.7"/><path d="M372.1 350.5 l-1.2100000000000002 3.9600000000000004 h2.4200000000000004 z" fill="#111"/><path d="M372.1 391 l-1.2100000000000002 -3.9600000000000004 h2.4200000000000004 z" fill="#111"/><text x="370.6" y="368.5" font-size="9" text-anchor="middle" fill="#333" transform="rotate(-90 370.6 368.5)">22</text>
<line x1="383" y1="383.7" x2="400" y2="383.7" stroke="#555" stroke-width="0.6"/>
<line x1="386.8" y1="379" x2="386.8" y2="395" stroke="#222" stroke-width="0.7"/>
<text x="383.5" y="387.5" font-size="9" text-anchor="middle" fill="#444" transform="rotate(-90 383.5 387.5)">4</text>
<line x1="392.2" y1="342.3" x2="442.3" y2="342.3" stroke="#222" stroke-width="0.7"/>
<path d="M392.2 342.3 l3.9600000000000004 -1.2100000000000002 v2.4200000000000004 z" fill="#111"/><path d="M442.3 342.3 l-3.9600000000000004 -1.2100000000000002 v2.4200000000000004 z" fill="#111"/>
<text x="413.5" y="340.3" font-size="9" text-anchor="middle" fill="#444">27</text>
<line x1="392.2" y1="388" x2="392.2" y2="417" stroke="#555" stroke-width="0.6"/>
<line x1="409" y1="388" x2="409" y2="417" stroke="#555" stroke-width="0.6"/>
<line x1="476.3" y1="388" x2="476.3" y2="417" stroke="#555" stroke-width="0.6"/>
<line x1="385" y1="414.4" x2="476.3" y2="414.4" stroke="#222" stroke-width="0.7"/>
<path d="M392.2 414.4 l3.9600000000000004 -1.2100000000000002 v2.4200000000000004 z" fill="#111"/><path d="M409 414.4 l-3.9600000000000004 -1.2100000000000002 v2.4200000000000004 z" fill="#111"/><path d="M409 414.4 l3.9600000000000004 -1.2100000000000002 v2.4200000000000004 z" fill="#111"/><path d="M476.3 414.4 l-3.9600000000000004 -1.2100000000000002 v2.4200000000000004 z" fill="#111"/>
<text x="402.3" y="412.5" font-size="9" text-anchor="middle" fill="#444">9</text>
<text x="442.7" y="412.5" font-size="9" text-anchor="middle" fill="#444">36</text>
<line x1="495" y1="390.8" x2="522" y2="390.8" stroke="#555" stroke-width="0.6"/>
<line x1="506.2" y1="356" x2="506.2" y2="394" stroke="#222" stroke-width="0.7"/>
<text x="502.8" y="376" font-size="9" text-anchor="middle" fill="#444" transform="rotate(-90 502.8 376)">16,50</text>
<rect x="522.2" y="330.7" width="12.5" height="58.8" rx="1.5" fill="#1c1c1c"/>
<rect x="524.4" y="336" width="4" height="48" fill="#8a8e90"/>
<rect x="530" y="337" width="3.5" height="8" fill="#b8bcbe"/><rect x="530" y="375" width="3.5" height="8" fill="#b8bcbe"/>
<path d="M534.7 336 H586.8 V385.4 H534.7 Z" fill="#eee" stroke="#222" stroke-width="0.8"/>
<path d="M534.7 338.5 Q560 341 586.5 338.5 V382.5 Q560 380 534.7 382.5 Z" fill="url(#gCoup)"/>
<text x="536" y="363" font-size="6.5" font-weight="bold" fill="#000">SERVO Engineering</text>
<line x1="580" y1="360.4" x2="600" y2="360.4" stroke="#111" stroke-width="0.8"/>
<rect x="586" y="330" width="3" height="60" fill="#1c1c1c"/>
<rect x="588.1" y="321.9" width="9.4" height="77.4" rx="2" fill="#1c1c1c"/>
<rect x="590.5" y="336" width="4" height="48" fill="#8a8e90"/>
<rect x="597.5" y="321.9" width="93.4" height="77.4" fill="url(#gMotL)" stroke="#111" stroke-width="1"/>
<rect x="613.4" y="321.9" width="3.6" height="77.4" fill="#2a2e32"/>
<rect x="617.4" y="321.9" width="52.7" height="77.4" fill="#1e1e1e"/>
<rect x="614" y="335.7" width="59.4" height="48.7" fill="#1c1c1c" stroke="#111" stroke-width="0.8"/>
<rect x="597.5" y="321.9" width="16" height="6.5" fill="#c4ccd4"/><rect x="670.1" y="321.9" width="20.8" height="6.5" fill="#c4ccd4"/>
<rect x="597.5" y="391.8" width="16" height="7.3" fill="#aab4c0"/><rect x="670.1" y="391.8" width="20.8" height="7.3" fill="#aab4c0"/>
<line x1="597.5" y1="328.6" x2="616" y2="328.6" stroke="#333" stroke-width="0.9"/><line x1="670" y1="328.6" x2="690.9" y2="328.6" stroke="#333" stroke-width="0.9"/>
<line x1="597.5" y1="391.6" x2="616" y2="391.6" stroke="#333" stroke-width="0.9"/><line x1="670" y1="391.6" x2="690.9" y2="391.6" stroke="#333" stroke-width="0.9"/>
<line x1="500" y1="360.4" x2="600" y2="360.4" stroke="#222" stroke-width="0.9" stroke-dasharray="7 2 1.5 2"/>
<line x1="551" y1="385.4" x2="560" y2="385.4" stroke="#555" stroke-width="0.6"/>
<line x1="551" y1="399.3" x2="597.5" y2="399.3" stroke="#555" stroke-width="0.6"/>
<line x1="551.6" y1="380" x2="551.6" y2="423" stroke="#222" stroke-width="0.7"/>
<text x="548.5" y="410.8" font-size="9" text-anchor="middle" fill="#444" transform="rotate(-90 548.5 410.8)">4,50</text>
<text x="289.3" y="434.6" font-size="7.8" fill="#111" stroke="#111" stroke-width="0.35" textLength="92" lengthAdjust="spacing">MDT36008-i40-AK-S-1</text>
<path d="M392.6 468.7 H492.4 V509 Q492.4 520 503 520 H522.4 V600.2 H392.6 Z" fill="#fff" stroke="#111" stroke-width="1.2"/>
<line x1="392.9" y1="468.7" x2="392.9" y2="600.2" stroke="#000" stroke-width="1.8"/>
<path d="M392.6 541 Q396 543 397.7 548.6 A54 54 0 0 0 496.3 512" fill="none" stroke="#111" stroke-width="0.9"/>
<circle cx="442.7" cy="518.8" r="44" fill="none" stroke="#7a7e80" stroke-width="11"/>
<circle cx="442.7" cy="518.8" r="49.5" fill="none" stroke="#111" stroke-width="0.9"/>
<circle cx="442.7" cy="518.8" r="38.5" fill="none" stroke="#111" stroke-width="0.9"/>
<circle cx="442.7" cy="518.8" r="34" fill="none" stroke="#555" stroke-width="0.6" stroke-dasharray="5 2"/>
<circle cx="442.7" cy="518.8" r="18.9" fill="none" stroke="#000" stroke-width="2.2"/>
<circle cx="442.7" cy="518.8" r="12.6" fill="none" stroke="#111" stroke-width="1.1"/>
<circle cx="442.7" cy="518.8" r="10.9" fill="none" stroke="#111" stroke-width="0.8"/>
<line x1="442.7" y1="466" x2="442.7" y2="576" stroke="#111" stroke-width="0.9" stroke-dasharray="7 2 1.5 2"/>
<line x1="372" y1="518.8" x2="522" y2="518.8" stroke="#111" stroke-width="0.9" stroke-dasharray="7 2 1.5 2"/>
<circle cx="442.7" cy="484.79999999999995" r="3.2" fill="#fff" stroke="#111" stroke-width="1"/>
<circle cx="408.7" cy="518.8" r="3.2" fill="#fff" stroke="#111" stroke-width="1"/>
<circle cx="476.7" cy="518.8" r="3.2" fill="#fff" stroke="#111" stroke-width="1"/>
<circle cx="442.7" cy="552.8" r="3.2" fill="#fff" stroke="#111" stroke-width="1"/>
<circle cx="400.5" cy="476.7" r="7.2" fill="#fff" stroke="#111" stroke-width="0.9"/>
<circle cx="400.5" cy="476.7" r="4.3" fill="#fff" stroke="#111" stroke-width="1.1"/>
<line x1="390.5" y1="476.7" x2="410.5" y2="476.7" stroke="#111" stroke-width="0.6"/><line x1="400.5" y1="466.7" x2="400.5" y2="486.7" stroke="#111" stroke-width="0.6"/>
<circle cx="484.6" cy="476.7" r="7.2" fill="#fff" stroke="#111" stroke-width="0.9"/>
<circle cx="484.6" cy="476.7" r="4.3" fill="#fff" stroke="#111" stroke-width="1.1"/>
<line x1="474.6" y1="476.7" x2="494.6" y2="476.7" stroke="#111" stroke-width="0.6"/><line x1="484.6" y1="466.7" x2="484.6" y2="486.7" stroke="#111" stroke-width="0.6"/>
<circle cx="400.5" cy="588.3" r="7.2" fill="#fff" stroke="#111" stroke-width="0.9"/>
<circle cx="400.5" cy="588.3" r="4.3" fill="#fff" stroke="#111" stroke-width="1.1"/>
<line x1="390.5" y1="588.3" x2="410.5" y2="588.3" stroke="#111" stroke-width="0.6"/><line x1="400.5" y1="578.3" x2="400.5" y2="598.3" stroke="#111" stroke-width="0.6"/>
<circle cx="484.6" cy="588.3" r="7.2" fill="#fff" stroke="#111" stroke-width="0.9"/>
<circle cx="484.6" cy="588.3" r="4.3" fill="#fff" stroke="#111" stroke-width="1.1"/>
<line x1="474.6" y1="588.3" x2="494.6" y2="588.3" stroke="#111" stroke-width="0.6"/><line x1="484.6" y1="578.3" x2="484.6" y2="598.3" stroke="#111" stroke-width="0.6"/>
<circle cx="508.6" cy="544.5" r="5" fill="#d8d8d8" stroke="#333" stroke-width="1"/><circle cx="508.6" cy="544.5" r="2.5" fill="#e0a040" stroke="#8a5a10" stroke-width="0.5"/>
<line x1="392.2" y1="447" x2="392.2" y2="470" stroke="#555" stroke-width="0.6"/>
<line x1="493.6" y1="447" x2="493.6" y2="470" stroke="#555" stroke-width="0.6"/>
<line x1="392.2" y1="450.7" x2="493.6" y2="450.7" stroke="#222" stroke-width="0.7"/>
<path d="M392.2 450.7 l3.9600000000000004 -1.2100000000000002 v2.4200000000000004 z" fill="#111"/><path d="M493.6 450.7 l-3.9600000000000004 -1.2100000000000002 v2.4200000000000004 z" fill="#111"/>
<text x="442.9" y="448.5" font-size="9.2" text-anchor="middle" fill="#444">Ø54</text>
<line x1="408.7" y1="460" x2="408.7" y2="519" stroke="#555" stroke-width="0.6"/>
<line x1="476.3" y1="460" x2="476.3" y2="519" stroke="#555" stroke-width="0.6"/>
<line x1="408.7" y1="463.3" x2="476.3" y2="463.3" stroke="#222" stroke-width="0.7"/>
<path d="M408.7 463.3 l3.9600000000000004 -1.2100000000000002 v2.4200000000000004 z" fill="#111"/><path d="M476.3 463.3 l-3.9600000000000004 -1.2100000000000002 v2.4200000000000004 z" fill="#111"/>
<text x="442.5" y="461.3" font-size="9.2" text-anchor="middle" fill="#444">Ø36</text>
<text x="308" y="478" font-size="9.1" text-anchor="start" fill="#444">DIN74-Km4 (4x)</text>
<line x1="376" y1="474.5" x2="394" y2="477" stroke="#222" stroke-width="0.6"/>
<line x1="344" y1="507" x2="408.7" y2="518.8" stroke="#111" stroke-width="0.6"/><text x="360.44" y="508.47" font-size="9" text-anchor="middle" font-style="italic" fill="#333" transform="rotate(10.34 360.44 508.47)">M4 (4x)</text>
<line x1="372" y1="560.2" x2="600" y2="560.2" stroke="#777" stroke-width="0.6" stroke-dasharray="14 2 2 2"/>
<line x1="378.8" y1="518.8" x2="378.8" y2="560.2" stroke="#222" stroke-width="0.7"/><path d="M378.8 518.8 l-1.2100000000000002 3.9600000000000004 h2.4200000000000004 z" fill="#111"/><path d="M378.8 560.2 l-1.2100000000000002 -3.9600000000000004 h2.4200000000000004 z" fill="#111"/><text x="375.5" y="539.5" font-size="9" text-anchor="middle" fill="#333" transform="rotate(-90 375.5 539.5)">22,62</text>
<line x1="495" y1="468" x2="584" y2="468" stroke="#555" stroke-width="0.6"/>
<line x1="517.4" y1="468" x2="517.4" y2="521" stroke="#222" stroke-width="0.7"/><path d="M517.4 468 l-1.2100000000000002 3.9600000000000004 h2.4200000000000004 z" fill="#111"/><path d="M517.4 521 l-1.2100000000000002 -3.9600000000000004 h2.4200000000000004 z" fill="#111"/><text x="514.5" y="490" font-size="9" text-anchor="middle" fill="#333" transform="rotate(-90 514.5 490)">28</text>
<line x1="580" y1="432.6" x2="663" y2="432.6" stroke="#555" stroke-width="0.6"/>
<line x1="580.7" y1="432.6" x2="580.7" y2="468" stroke="#222" stroke-width="0.7"/><path d="M580.7 432.6 l-1.2100000000000002 3.9600000000000004 h2.4200000000000004 z" fill="#111"/><path d="M580.7 468 l-1.2100000000000002 -3.9600000000000004 h2.4200000000000004 z" fill="#111"/><text x="577.8" y="454" font-size="9" text-anchor="middle" fill="#333" transform="rotate(-90 577.8 454)">19,4</text>
<line x1="392.2" y1="600" x2="392.2" y2="616" stroke="#555" stroke-width="0.6"/>
<line x1="706.3" y1="600" x2="706.3" y2="616" stroke="#555" stroke-width="0.6"/>
<line x1="392.2" y1="613.5" x2="706.3" y2="613.5" stroke="#222" stroke-width="0.7"/>
<path d="M392.2 613.5 l3.9600000000000004 -1.2100000000000002 v2.4200000000000004 z" fill="#111"/><path d="M706.3 613.5 l-3.9600000000000004 -1.2100000000000002 v2.4200000000000004 z" fill="#111"/>
<text x="561.2" y="611.8" font-size="9" text-anchor="middle" fill="#444">168</text>
<rect x="522.6" y="520.5" width="8.8" height="78.60000000000002" fill="#1e1e1e" stroke="#111" stroke-width="0.6"/>
<rect x="524.5" y="521.5" width="5.3" height="77.6" fill="#8e9294"/>
<rect x="524.5" y="542.5" width="5.3" height="1.6" fill="#222"/><rect x="524.5" y="576.5" width="5.3" height="1.6" fill="#222"/>
<rect x="525" y="544.0" width="7" height="32.5" rx="2.5" fill="#5e6264" stroke="#1a1a1a" stroke-width="0.8"/>
<rect x="526.5" y="550.0" width="2.5" height="20" fill="#a0a4a6"/>
<rect x="530.8" y="522.6" width="5.5" height="9.9" fill="#a8acae" stroke="#222" stroke-width="0.7"/><rect x="530.8" y="588.2" width="5.5" height="10.9" fill="#a8acae" stroke="#222" stroke-width="0.7"/>
<rect x="531.4" y="530.3" width="59" height="60.1" fill="#1c1c1c"/>
<rect x="534.7" y="542.3" width="50.7" height="36" rx="5.5" fill="#fff" stroke="#000" stroke-width="1.8"/>
<rect x="552.1" y="542.3" width="15.3" height="8.2" fill="#1e56b0" stroke="#102a60" stroke-width="0.6"/><rect x="552.1" y="570.7" width="15.3" height="7.6" fill="#1e56b0" stroke="#102a60" stroke-width="0.6"/>
<rect x="565.5" y="550.0" width="1.9" height="21" fill="#ccc" stroke="#222" stroke-width="0.5"/>
<line x1="544" y1="581.0" x2="577" y2="581.0" stroke="#888" stroke-width="0.8"/>
<ellipse cx="543.4" cy="575.6" rx="4" ry="3.2" fill="#fff" stroke="#333" stroke-width="0.9"/>
<rect x="589.3" y="521.0" width="8.2" height="78.1" rx="2" fill="#1c1c1c"/>
<rect x="592" y="536.3" width="4.4" height="48.6" fill="#8c9092"/>
<line x1="536" y1="560.9" x2="585" y2="560.9" stroke="#555" stroke-width="0.7"/><line x1="567" y1="560.9" x2="585" y2="560.9" stroke="#111" stroke-width="1.2"/>
<path d="M571 578 Q571 568 576 568 Q581 568 581 578 Z" fill="#fff" stroke="#111" stroke-width="0.9"/>
<path d="M597.5 521.9 H660.2 V432.6 H706.3 V600 H597.5 Z" fill="#4a2a48" stroke="#111" stroke-width="1"/>
<rect x="660.7" y="433.1" width="24.7" height="88.8" fill="#6a7286"/>
<line x1="685.4" y1="433" x2="685.4" y2="529" stroke="#111" stroke-width="0.8"/><line x1="660.7" y1="433" x2="660.7" y2="522" stroke="#000" stroke-width="1.4"/>
<path d="M597.5 521.9 H685.4 V528.8 H597.5 Z" fill="#111"/>
<rect x="615.6" y="533" width="48.8" height="55.9" rx="4" fill="#5e6464" stroke="#1a1a1a" stroke-width="0.9"/>
<rect x="597.5" y="593" width="108.8" height="7" fill="#262626"/>
<rect x="685" y="593" width="21" height="7" fill="#3a3a5a"/>
<path d="M647.7 456 H660.2 V470 H647.7 Z" fill="#e8e8e8" stroke="#444" stroke-width="0.8"/>
<line x1="651" y1="456" x2="651" y2="470" stroke="#666" stroke-width="0.6"/><line x1="654.5" y1="456" x2="654.5" y2="470" stroke="#666" stroke-width="0.6"/><line x1="658" y1="456" x2="658" y2="470" stroke="#666" stroke-width="0.6"/>
<line x1="600" y1="560.9" x2="700" y2="560.9" stroke="#666" stroke-width="0.9" stroke-dasharray="7 2 1.5 2"/>
<defs>
<linearGradient id="gNavy" x1="0" x2="1" y1="0" y2="0"><stop offset="0" stop-color="#141828"/><stop offset="0.5" stop-color="#2a3050"/><stop offset="1" stop-color="#141828"/></linearGradient>
<linearGradient id="gTop" x1="0" x2="1" y1="0" y2="1"><stop offset="0" stop-color="#d0d4d8"/><stop offset="1" stop-color="#b8bcc2"/></linearGradient>
<linearGradient id="gM1" x1="0" x2="1" y1="0" y2="0"><stop offset="0" stop-color="#e83a20"/><stop offset="0.6" stop-color="#e85050"/><stop offset="1" stop-color="#f06070"/></linearGradient>
<linearGradient id="gRim" x1="0" x2="1" y1="0" y2="0"><stop offset="0" stop-color="#0e0e10"/><stop offset="0.55" stop-color="#1a1c24"/><stop offset="0.85" stop-color="#3a4058"/><stop offset="1" stop-color="#1a1c24"/></linearGradient>
</defs>
<line x1="149.6" y1="385" x2="149.6" y2="365.2" stroke="#e8442a" stroke-width="2.4"/><path d="M149.6 347.2 L154.8 365.2 L144.4 365.2 Z" fill="#e8442a" stroke="#b83010" stroke-width="0.4"/>
<line x1="149.6" y1="385" x2="150.2" y2="405.9" stroke="#e8442a" stroke-width="2.4"/><path d="M150.6 422.9 L145.0 406.0 L155.3 405.8 Z" fill="#e8442a" stroke="#b83010" stroke-width="0.4"/>
<line x1="149.6" y1="385" x2="129.4" y2="381.6" stroke="#e8442a" stroke-width="2.4"/><path d="M115.6 379.2 L130.0 378.0 L128.8 385.1 Z" fill="#e8442a" stroke="#b83010" stroke-width="0.4"/>
<line x1="149.6" y1="385" x2="170.8" y2="388.6" stroke="#e8442a" stroke-width="2.4"/><path d="M184.6 390.9 L170.2 392.1 L171.4 385.0 Z" fill="#e8442a" stroke="#b83010" stroke-width="0.4"/>
<line x1="149.6" y1="385" x2="160.2" y2="380.0" stroke="#e8442a" stroke-width="2.4"/><path d="M171 374.8 L161.8 383.4 L158.5 376.5 Z" fill="#e8442a" stroke="#b83010" stroke-width="0.4"/>
<line x1="149.6" y1="385" x2="140.9" y2="389.4" stroke="#e8442a" stroke-width="2.4"/><path d="M130.2 394.8 L139.2 386.0 L142.6 392.8 Z" fill="#e8442a" stroke="#b83010" stroke-width="0.4"/>
<text transform="translate(150.2 349) rotate(0) skewX(-5) scale(0.66 1)" font-size="27" font-weight="bold" fill="#1f3f8c" text-anchor="middle">F3</text>
<text transform="translate(92.5 387) rotate(0) skewX(-2) scale(0.78 1)" font-size="30" font-weight="bold" fill="#1f3f8c" text-anchor="middle">F2</text>
<text transform="translate(183 381) rotate(-14) skewX(-10) scale(0.62 1)" font-size="28" font-weight="bold" fill="#1f3f8c" text-anchor="middle">F2</text>
<text transform="translate(202 405.5) rotate(0) skewX(-2) scale(0.78 1)" font-size="30" font-weight="bold" fill="#1f3f8c" text-anchor="middle">F2</text>
<text transform="translate(120 413) rotate(-14) skewX(-10) scale(0.62 1)" font-size="28" font-weight="bold" fill="#1f3f8c" text-anchor="middle">F2</text>
<text transform="translate(151 449) rotate(0) skewX(-4) scale(0.6 1)" font-size="30" font-weight="bold" fill="#1f3f8c" text-anchor="middle">F1</text>
<path d="M56.5 511.9 L113.7 482.4 L200 498 L209.5 503 L209.5 506.5 L171 521 L122.8 516.4 L114.3 521.9 Z" fill="url(#gTop)" stroke="#666" stroke-width="0.7"/>
<path d="M56.5 511.9 L114.3 521.9 L114.3 525.5 L56.5 516 Z" fill="#eceef0" stroke="#777" stroke-width="0.5"/>
<ellipse cx="81.9" cy="504.8" rx="6" ry="2.4" fill="#f4f4f4" stroke="#999" stroke-width="0.5"/>
<ellipse cx="103.7" cy="515.4" rx="3.5" ry="1.6" fill="#777" stroke="#444" stroke-width="0.5"/>
<path d="M114.3 521.9 L122.8 516.4 L171 521 L171 570.2 L114.3 569 Z" fill="#f4f4f6" stroke="#666" stroke-width="0.7"/>
<path d="M171 521 L209.5 506.5 L209.5 557 L171 570.2 Z" fill="#fbfbfb" stroke="#666" stroke-width="0.7"/>
<line x1="122.8" y1="516.4" x2="122.8" y2="569.5" stroke="#777" stroke-width="0.6"/><line x1="138.2" y1="518" x2="138.2" y2="569.5" stroke="#777" stroke-width="0.6"/><line x1="161" y1="520.2" x2="161" y2="570" stroke="#777" stroke-width="0.6"/>
<circle cx="142.8" cy="533.7" r="1.6" fill="#666"/><circle cx="142.8" cy="552.9" r="1.6" fill="#666"/>
<circle cx="190" cy="521" r="1.3" fill="#555"/><circle cx="203" cy="546" r="1.3" fill="#555"/><circle cx="175" cy="563" r="1.3" fill="#555"/>
<path d="M53.5 519 L114.3 525.5 L114.3 569.1 L53.5 566 Z" fill="#161616"/>
<ellipse cx="82" cy="531" rx="13" ry="6.5" fill="#fff"/>
<path d="M81.9 526 Q96 522 104.3 530 L104.3 566 Q95 572 81.9 568 Z" fill="url(#gNavy)"/>
<rect x="111.4" y="526.6" width="2.9" height="41.4" fill="#3a4a80"/>
<circle cx="105.5" cy="532.5" r="3.8" fill="#a8a8a8" stroke="#333" stroke-width="0.6"/><circle cx="105.5" cy="563.8" r="3.8" fill="#a8a8a8" stroke="#333" stroke-width="0.6"/>
<circle cx="58" cy="524" r="3.5" fill="#999" stroke="#333" stroke-width="0.6"/>
<path d="M77 535 L80 534.5 L84 537.5 L84.8 588.5 L81.9 591 Z" fill="#2a3660"/>
<path d="M35.8 522.3 L68.5 527.1 L77 535 L81.9 586.6 L72.2 593.3 L31.5 587.8 L24.9 578.7 L24.2 532 Z" fill="#151515" stroke="#000" stroke-width="1" stroke-linejoin="round"/>
<ellipse cx="52.5" cy="557" rx="18" ry="21.8" fill="#1e2440"/>
<ellipse cx="55.2" cy="557.5" rx="15.5" ry="19.4" fill="#fff"/>
<line x1="57.5" y1="540" x2="57.5" y2="556" stroke="#888" stroke-width="0.8"/><circle cx="57.5" cy="556" r="2.6" fill="#fff" stroke="#777" stroke-width="0.7"/><rect x="56.5" y="558.5" width="2" height="4" fill="#ccc" stroke="#777" stroke-width="0.5"/>
<circle cx="30.5" cy="531" r="1.3" fill="#3a4070"/>
<circle cx="73" cy="538" r="1.3" fill="#3a4070"/>
<circle cx="31.5" cy="578" r="1.3" fill="#3a4070"/>
<circle cx="74" cy="584" r="1.3" fill="#3a4070"/>
<path d="M108.6 493.5 V507.5 A43.3 13 0 0 0 195.2 507.5 V493.5 Z" fill="url(#gRim)"/>
<ellipse cx="151.9" cy="493.5" rx="43.3" ry="13" fill="#141414"/>
<ellipse cx="151.9" cy="494" rx="33.5" ry="9.4" fill="#b8bcc0"/>
<ellipse cx="151.9" cy="494.5" rx="15.3" ry="5.5" fill="#a0a4a8" stroke="#555" stroke-width="0.6"/>
<ellipse cx="151.9" cy="494.8" rx="9.5" ry="3.5" fill="#f2f2f2" stroke="#666" stroke-width="0.6"/>
<rect x="128.5" y="508" width="4" height="12" fill="#e8442a"/>
<circle cx="127" cy="490" r="1" fill="#555"/>
<circle cx="168" cy="486" r="1" fill="#555"/>
<circle cx="137" cy="500" r="1" fill="#555"/>
<circle cx="177" cy="497" r="1" fill="#555"/>
<path d="M117.3 471 Q120 466 135 463 Q158 460 176 472 L179 470 Q160 456 135 460.5 Q118 464 117.3 471 Z" fill="#e8442a"/>
<path d="M186.5 482.5 L168 477 L181 466 Z" fill="#e8442a"/>
<text transform="translate(208.3 489) rotate(0) skewX(0) scale(0.94 1)" font-size="26" font-weight="bold" fill="#1f3f8c" text-anchor="middle">M2</text>
<path d="M167 521 Q192 517 214 512" fill="none" stroke="url(#gM1)" stroke-width="4.2"/>
<path d="M157.4 522.8 L173 512 L175 530 Z" fill="#e83a20"/>
<path d="M224.5 509 L208 502 L213 521 Z" fill="#f06070"/>
<text transform="translate(197.5 548.3) rotate(0) skewX(0) scale(0.74 1)" font-size="29" font-weight="bold" fill="#1f3f8c" stroke="#1f3f8c" stroke-width="0.8" text-anchor="middle">M1</text>
</svg>
</body></html>
